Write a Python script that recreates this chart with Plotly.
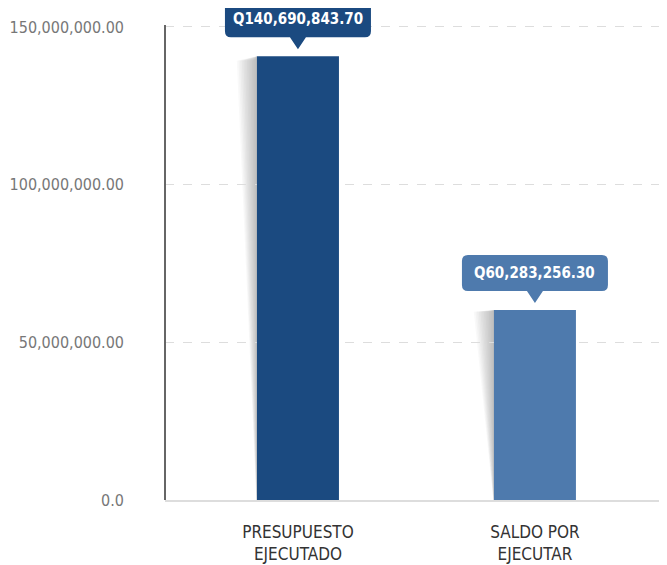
import plotly.graph_objects as go

categories = ["PRESUPUESTO<br>EJECUTADO", "SALDO POR<br>EJECUTAR"]
values = [140690843.70, 60283256.30]
labels = ["Q140,690,843.70", "Q60,283,256.30"]
colors = ["#1b4a80", "#4e7aad"]
tick_vals = [0, 50000000, 100000000, 150000000]
tick_text = ["0.0", "50,000,000.00", "100,000,000.00", "150,000,000.00"]

FONT = "DejaVu Sans Condensed, Liberation Sans Narrow, sans-serif"
xpos = list(range(len(categories)))
bar_w = 0.346
y_top = 156000000
axis_top = 150600000

fig = go.Figure()
fig.add_trace(go.Bar(x=xpos, y=values, width=bar_w, marker=dict(color=colors, line=dict(width=0)),
                     hoverinfo="skip"))

shapes = []
# soft shadows to the left of bars
for i, v in enumerate(values):
    xl = xpos[i] - bar_w / 2
    n = 12
    for k in range(n):
        w = 0.085 * (k + 1) / n
        shapes.append(dict(type="path", xref="x", yref="y", layer="below",
                           path=f"M {xl - w},{v * 0.99} L {xl},{v} L {xl},0 L {xl - w * 0.03},0 Z",
                           fillcolor="rgba(90,90,90,0.035)", line=dict(width=0)))

# y axis line (starts at the top tick)
shapes.append(dict(type="line", xref="paper", yref="y", x0=0, x1=0, y0=0, y1=axis_top,
                   line=dict(color="#666666", width=2)))

# callouts
for i, v in enumerate(values):
    r = 6
    x0, x1, yb, yt = -73, 73, 19, 55
    p = (f"M {x0 + r},{yt} L {x1 - r},{yt} Q {x1},{yt} {x1},{yt - r} L {x1},{yb + r} "
         f"Q {x1},{yb} {x1 - r},{yb} L 8,{yb} L 0,7 L -8,{yb} L {x0 + r},{yb} "
         f"Q {x0},{yb} {x0},{yb + r} L {x0},{yt - r} Q {x0},{yt} {x0 + r},{yt} Z")
    shapes.append(dict(type="path", xref="x", yref="y", xsizemode="pixel", ysizemode="pixel",
                       xanchor=xpos[i], yanchor=v, path=p, fillcolor=colors[i],
                       line=dict(width=0)))

annotations = []
for i, v in enumerate(values):
    annotations.append(dict(x=xpos[i], y=v, xref="x", yref="y", text=f"<b>{labels[i]}</b>",
                            showarrow=False, yshift=37, yanchor="middle",
                            font=dict(family=FONT, size=15, color="white")))

fig.update_layout(
    width=667, height=565,
    margin=dict(l=157, r=0, t=0, b=73),
    paper_bgcolor="white", plot_bgcolor="white",
    showlegend=False,
    shapes=shapes, annotations=annotations,
    font=dict(family=FONT),
    xaxis=dict(range=[-0.561, 1.591], tickvals=xpos, ticktext=categories, automargin=False,
               showgrid=False, zeroline=False, showline=True, linecolor="#dddddd", linewidth=1.5,
               ticks="", ticklabelstandoff=16,
               tickfont=dict(family=FONT, size=17, color="#333333"), fixedrange=True),
    yaxis=dict(range=[0, y_top], tickvals=tick_vals, ticktext=tick_text, automargin=False,
               showgrid=True, gridcolor="#dddddd", griddash="dash", gridwidth=1,
               zeroline=False, showline=False,
               ticks="", ticklabelstandoff=40,
               tickfont=dict(family=FONT, size=16, color="#777777"), fixedrange=True),
)

fig.write_html("out.html")
